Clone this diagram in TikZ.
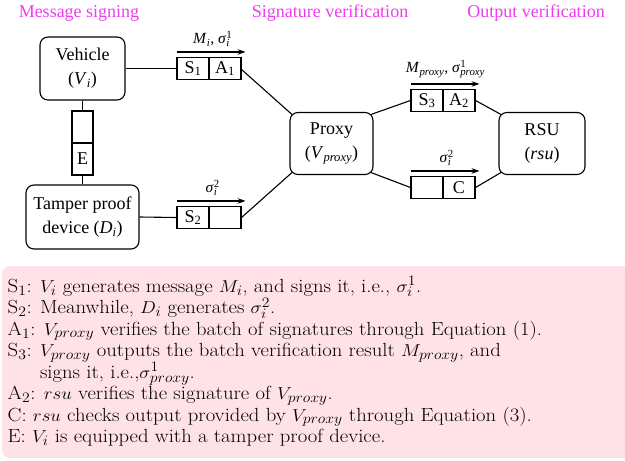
\documentclass[tikz,border=0pt]{standalone}
\usepackage{fontspec}
\newfontfamily\tnr{Liberation Serif}
\usetikzlibrary{arrows.meta,calc}
\definecolor{titlemag}{RGB}{238,60,238}
\definecolor{pinkbg}{RGB}{255,226,232}
\newcommand\subsup[3]{#1\makebox[0pt][l]{\textsuperscript{#3}}\textsubscript{#2}}
\newcommand\wideline[1]{\scalebox{1.09}[1]{#1}}
\tikzset{
  box/.style={draw, rounded corners=8pt, line width=1.1pt, align=center, inner sep=0pt,
    font=\tnr\fontsize{18}{24}\selectfont},
  cell/.style={draw, line width=1.1pt, minimum width=32pt, minimum height=22pt, inner sep=0pt,
    font=\tnr\fontsize{18}{20}\selectfont},
  ecell/.style={draw, line width=1.1pt, minimum width=21pt, minimum height=32pt, inner sep=0pt,
    font=\tnr\fontsize{18}{20}\selectfont},
  title/.style={text=titlemag, inner sep=0pt, font=\tnr\fontsize{18}{20}\selectfont},
  conn/.style={line width=1.1pt},
  flow/.style={line width=1.1pt, -{Stealth[length=8pt,width=5.5pt]}},
  lab/.style={inner sep=0pt, font=\tnr\fontsize{15.5}{17}\selectfont},
  desc/.style={anchor=base west, inner sep=0pt, font=\fontsize{19}{21}\selectfont},
}
\begin{document}
\begin{tikzpicture}[x=1pt,y=-1pt]
\useasboundingbox (0,0) rectangle (625,461);
% background panel
\fill[pinkbg, rounded corners=8pt] (2,266) rectangle (640,458);

% titles
\node[title] (t1) at (79,13) {Message signing};
\node[title] (t2) at (330,13) {Signature verification};
\node[title] (t3) at (536,13) {Output verification};

% main boxes
\node[box, minimum width=85pt, minimum height=63pt] (veh) at (82.5,68.5)
  {Vehicle\\(\textit{V}\textsubscript{\textit{i}})};
\node[box, minimum width=113pt, minimum height=64pt] (tamp) at (82.5,217)
  {Tamper proof\\device (\textit{D}\textsubscript{\textit{i}})};
\node[box, minimum width=83pt, minimum height=62pt] (proxy) at (331.5,143.5)
  {Proxy\\(\textit{V}\textsubscript{\textit{proxy}})};
\node[box, minimum width=86pt, minimum height=62pt] (rsu) at (542,143.5)
  {RSU\\(\textit{rsu})};

% E column
\node[ecell] (etop) at (82.5,127) {};
\node[ecell] (ebot) at (82.5,159) {E};

% cells
\node[cell] (s1) at (193,68.5) {S\textsubscript{1}};
\node[cell] (a1) at (225,68.5) {A\textsubscript{1}};
\node[cell] (s2) at (193,217.5) {S\textsubscript{2}};
\node[cell] (b2) at (225,217.5) {};
\node[cell] (s3) at (427,100.5) {S\textsubscript{3}};
\node[cell] (a2) at (459,100.5) {A\textsubscript{2}};
\node[cell] (bc) at (427,187.5) {};
\node[cell] (cc) at (459,187.5) {C};

% connectors
\draw[conn] (veh.east) -- (s1.west);
\draw[conn] (tamp.east) -- (s2.west);
\draw[conn] (veh.south) -- (etop.north);
\draw[conn] (ebot.south) -- (tamp.north);
\draw[conn] ($(a1.east)+(0,1)$) -- ($(proxy.north west)+(2.5,2.5)$);
\draw[conn] (b2.east) -- ($(proxy.south west)+(2.5,-2.5)$);
\draw[conn] ($(proxy.north east)+(-2.5,2.5)$) -- (s3.west);
\draw[conn] (a2.east) -- ($(rsu.north west)+(2.5,2.5)$);
\draw[conn] ($(proxy.south east)+(-2.5,-2.5)$) -- (bc.west);
\draw[conn] (cc.east) -- ($(rsu.south west)+(2.5,-2.5)$);

% flow arrows with labels
\coordinate (f1a) at ($(s1.north west)+(1,-5)$);
\coordinate (f1b) at ($(a1.north east)+(4,-5)$);
\draw[flow] (f1a) -- (f1b);
\node[lab, anchor=base] (m1) at ($(f1a)!0.5!(f1b)+(0,-8)$)
  {\textit{M}\textsubscript{\textit{i}}, \subsup{\textit{σ}}{\textit{i}}{1}};
\coordinate (f2a) at ($(s2.north west)+(1,-5)$);
\coordinate (f2b) at ($(b2.north east)+(4,-5)$);
\draw[flow] (f2a) -- (f2b);
\node[lab, anchor=base] (m2) at ($(f2a)!0.5!(f2b)+(0,-8)$)
  {\subsup{\textit{σ}}{\textit{i}}{2}};
\coordinate (f3a) at ($(s3.north west)+(1,-5)$);
\coordinate (f3b) at ($(a2.north east)+(4,-5)$);
\draw[flow] (f3a) -- (f3b);
\node[lab, anchor=base] (m3) at ($(f3a)!0.5!(f3b)+(0,-11)$)
  {\textit{M}\textsubscript{\textit{proxy}}, \subsup{\textit{σ}}{\textit{proxy}}{1}};
\coordinate (f4a) at ($(bc.north west)+(1,-5)$);
\coordinate (f4b) at ($(cc.north east)+(4,-5)$);
\draw[flow] (f4a) -- (f4b);
\node[lab, anchor=base] (m4) at ($(f4a)!0.5!(f4b)+(0,-8)$)
  {\subsup{\textit{σ}}{\textit{i}}{2}};

% description
\node[desc] (l1) at (7.5,292) {\wideline{S$_1$: $V_i$ generates message $M_i$, and signs it, i.e., $\sigma_i^1$.}};
\node[desc] (l2) at (7.5,313.5) {\wideline{S$_2$: Meanwhile, $D_i$ generates $\sigma_i^2$.}};
\node[desc] (l3) at (7.5,335) {\wideline{A$_1$: $V_{proxy}$ verifies the batch of signatures through Equation (1).}};
\node[desc] (l4) at (7.5,356.5) {\wideline{S$_3$: $V_{proxy}$ outputs the batch verification result $M_{proxy}$, and}};
\node[desc] (l5) at (7.5,378) {\wideline{\phantom{S$_3$: }signs it, i.e.,$\sigma^1_{proxy}$.}};
\node[desc] (l6) at (7.5,399.5) {\wideline{A$_2$: $rsu$ verifies the signature of $V_{proxy}$.}};
\node[desc] (l7) at (7.5,421) {\wideline{C: $rsu$ checks output provided by $V_{proxy}$ through Equation (3).}};
\node[desc] (l8) at (7.5,442) {\wideline{E: $V_i$ is equipped with a tamper proof device.}};
\end{tikzpicture}
\end{document}
